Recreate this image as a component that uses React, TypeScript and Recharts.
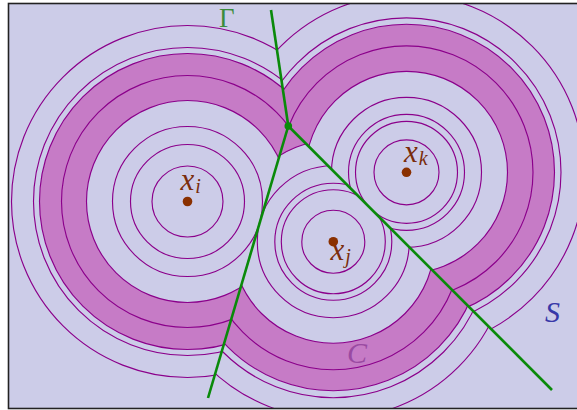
import React from 'react';
import * as RC from 'recharts';

const { ScatterChart, Scatter, XAxis, YAxis, Customized } = RC as any;

// canvas / domain (data units map 1:1 onto the 577x410 picture)
const W = 577;
const H = 410;

// frame of the figure
const frameX = [8.5, 578];
const frameY = [3.5, 408.5];

// sites x_i, x_j, x_k
const siteNames = ['i', 'j', 'k'];
const siteX = [187.5, 333.3, 406.5];
const siteY = [201.5, 241.7, 172.3];

// level-set circles around each site
const radiiI = [35.5, 57, 75, 101, 126, 148, 154, 176];
const radiiJ = [31.5, 52, 58.5, 76, 101.5, 128, 149, 156, 177];
const radiiK = [32.5, 51, 58, 75, 101, 126.5, 148, 154.5, 178];
const siteRadii = [radiiI, radiiJ, radiiK];

// shaded band C (inner / outer radius per site)
const bandInner = [101, 101.5, 101];
const bandOuter = [148, 149, 148];

// Voronoi vertex and the three rays of Γ
const vertexX = [288.3];
const vertexY = [126];
const rayEndX = [271, 208, 552];
const rayEndY = [10, 398, 390];
const raySites = [[0, 2], [0, 1], [1, 2]];

// labels
const labelText = ['Γ', 'S', 'C'];
const labelX = [219, 545, 347];
const labelY = [26.5, 321.5, 363];
const labelSize = [27, 30, 30];
const labelColor = ['#3c8c3c', '#3838a8', '#9a4aa2'];
const labelItalic = [false, true, true];
const siteLabelX = [180.5, 330.5, 404];
const siteLabelY = [190, 260, 161.5];

const BG = '#cccce8';
const BAND = '#c67bc6';
const CIRCLE = '#8b008b';
const GREEN = '#0a8a0a';
const BROWN = '#8a3000';
const FONT = '"Liberation Serif", "DejaVu Serif", serif';

type P = { x: number; y: number };

function clipHalf(poly: P[], a: P, b: P, inside: P): P[] {
  const side = (p: P) => (b.x - a.x) * (p.y - a.y) - (b.y - a.y) * (p.x - a.x);
  const sgn = Math.sign(side(inside));
  const isIn = (p: P) => side(p) * sgn >= 0;
  const out: P[] = [];
  for (let i = 0; i < poly.length; i++) {
    const cur = poly[i];
    const prev = poly[(i + poly.length - 1) % poly.length];
    const cin = isIn(cur);
    const pin = isIn(prev);
    if (cin !== pin) {
      const s1 = side(prev);
      const s2 = side(cur);
      const t = s1 / (s1 - s2);
      out.push({ x: prev.x + t * (cur.x - prev.x), y: prev.y + t * (cur.y - prev.y) });
    }
    if (cin) out.push(cur);
  }
  return out;
}

function useScales() {
  const plot = (RC as any).usePlotArea ? (RC as any).usePlotArea() : null;
  const area = plot || { x: 0, y: 0, width: W, height: H };
  const sx = (v: number) => area.x + (v / W) * area.width;
  const sy = (v: number) => area.y + (v / H) * area.height;
  const sr = (v: number) => (v / W) * area.width;
  return { sx, sy, sr };
}

function annulus(cx: number, cy: number, r: number) {
  return `M${cx + r},${cy}A${r},${r} 0 1 0 ${cx - r},${cy}A${r},${r} 0 1 0 ${cx + r},${cy}Z`;
}

function Diagram() {
  const { sx, sy, sr } = useScales();
  const v = { x: vertexX[0], y: vertexY[0] };
  const big: P[] = [
    { x: frameX[0], y: frameY[0] },
    { x: frameX[1], y: frameY[0] },
    { x: frameX[1], y: frameY[1] },
    { x: frameX[0], y: frameY[1] },
  ];
  const cells = siteX.map((_, s) => {
    let poly = big;
    raySites.forEach((pair, r) => {
      if (pair.includes(s)) {
        poly = clipHalf(poly, v, { x: rayEndX[r], y: rayEndY[r] }, { x: siteX[s], y: siteY[s] });
      }
    });
    return poly.map((p) => `${sx(p.x)},${sy(p.y)}`).join(' ');
  });
  const fx = sx(frameX[0]);
  const fy = sy(frameY[0]);
  const fw = sx(frameX[1]) - fx;
  const fh = sy(frameY[1]) - fy;
  return (
    <g>
      <defs>
        {cells.map((pts, s) => (
          <clipPath id={`cell-${s}`} key={s}>
            <polygon points={pts} />
          </clipPath>
        ))}
      </defs>
      <rect x={fx} y={fy} width={fw} height={fh} fill={BG} />
      {siteX.map((_, s) => {
        const cx = sx(siteX[s]);
        const cy = sy(siteY[s]);
        return (
          <g key={s} clipPath={`url(#cell-${s})`}>
            <path
              d={annulus(cx, cy, sr(bandOuter[s])) + annulus(cx, cy, sr(bandInner[s]))}
              fill={BAND}
              fillRule="evenodd"
            />
            {siteRadii[s].map((r, k) => (
              <circle key={k} cx={cx} cy={cy} r={sr(r)} fill="none" stroke={CIRCLE} strokeWidth={1.15} />
            ))}
          </g>
        );
      })}
      <rect x={fx} y={fy} width={fw} height={fh} fill="none" stroke="#222" strokeWidth={1.6} />
    </g>
  );
}

function Labels() {
  const { sx, sy } = useScales();
  return (
    <g fontFamily={FONT}>
      {labelText.map((t, i) => (
        <text
          key={t}
          x={sx(labelX[i])}
          y={sy(labelY[i])}
          fill={labelColor[i]}
          fontSize={labelSize[i]}
          fontStyle={labelItalic[i] ? 'italic' : 'normal'}
        >
          {t}
        </text>
      ))}
      {siteNames.map((n, i) => (
        <text key={n} x={sx(siteLabelX[i])} y={sy(siteLabelY[i])} fill="#7a2c0c" fontStyle="italic">
          <tspan fontSize={31}>x</tspan>
          <tspan fontSize={20} dx={1} dy={3}>
            {n}
          </tspan>
        </text>
      ))}
    </g>
  );
}

const siteData = siteX.map((x, i) => ({ x, y: siteY[i] }));
const vertexData = [{ x: vertexX[0], y: vertexY[0] }];
const rayData = rayEndX.map((x, r) => [
  { x: vertexX[0], y: vertexY[0] },
  { x, y: rayEndY[r] },
]);

export default function App() {
  return (
    <div style={{ position: 'absolute', left: 0, top: 0, width: W, height: H, background: '#fff' }}>
      <ScatterChart width={W} height={H} margin={{ top: 0, right: 0, bottom: 0, left: 0 }}>
        <XAxis type="number" dataKey="x" domain={[0, W]} hide allowDataOverflow />
        <YAxis type="number" dataKey="y" domain={[0, H]} reversed hide allowDataOverflow />
        <Customized component={<Diagram />} />
        {rayData.map((d, r) => (
          <Scatter
            key={r}
            data={d}
            line={{ stroke: GREEN, strokeWidth: 2.6 }}
            shape={() => <g />}
            isAnimationActive={false}
          />
        ))}
        <Scatter
          data={siteData}
          isAnimationActive={false}
          shape={(p: any) => <circle cx={p.cx} cy={p.cy} r={4.8} fill={BROWN} />}
        />
        <Scatter
          data={vertexData}
          isAnimationActive={false}
          shape={(p: any) => <circle cx={p.cx} cy={p.cy} r={3.8} fill={GREEN} />}
        />
        <Customized component={<Labels />} />
      </ScatterChart>
    </div>
  );
}
